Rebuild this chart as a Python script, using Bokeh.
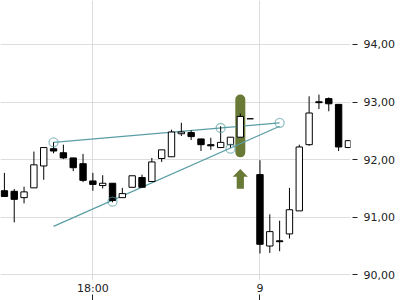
from bokeh.plotting import figure
from bokeh.models import FixedTicker, Label, ColumnDataSource, Range1d
from bokeh.embed import file_html
from bokeh.resources import INLINE

# ---- data ----
idx = list(range(36))
opens  = [91.46, 91.45, 91.34, 91.51, 91.89, 92.19, 92.12, 92.03, 91.93, 91.63,
          91.55, 91.59, 91.34, 91.52, 91.69, 91.62, 92.02, 92.05, 92.45, 92.47,
          92.36, 92.26, 92.21, 92.26, 92.39, 92.71, 91.74, 90.50, 90.59, 90.71,
          91.11, 92.26, 93.005, 93.06, 92.96, 92.21]
highs  = [91.77, 91.49, 91.53, 92.14, 92.21, 92.30, 92.26, 92.03, 92.10, 91.77,
          91.73, 91.59, 91.51, 91.72, 91.74, 92.03, 92.17, 92.52, 92.64, 92.51,
          92.36, 92.38, 92.58, 92.39, 92.80, 92.71, 91.99, 91.05, 90.94, 91.51,
          92.26, 93.10, 93.13, 93.08, 92.96, 92.33]
lows   = [91.36, 90.91, 91.24, 91.51, 91.65, 92.11, 92.01, 91.80, 91.61, 91.46,
          91.50, 91.26, 91.34, 91.52, 91.52, 91.62, 91.96, 92.05, 92.41, 92.34,
          92.15, 92.17, 92.21, 92.21, 92.39, 92.71, 90.37, 90.38, 90.41, 90.63,
          91.11, 92.24, 92.88, 92.84, 92.15, 92.21]
closes = [91.36, 91.31, 91.44, 91.91, 92.21, 92.15, 92.03, 91.86, 91.64, 91.57,
          91.59, 91.29, 91.41, 91.72, 91.52, 91.96, 92.17, 92.48, 92.48, 92.40,
          92.26, 92.24, 92.30, 92.39, 92.75, 92.71, 90.53, 90.75, 90.575, 91.13,
          92.22, 92.81, 92.99, 92.97, 92.22, 92.33]

x_tick_pos = [9, 26]
x_tick_labels = ["18:00", "9"]
y_ticks = [90, 91, 92, 93, 94]

trend1_x = [5, 28]
trend1_y = [92.30, 92.64]
trend2_x = [5, 28]
trend2_y = [90.84, 92.58]
pivot_x = [5, 22, 28, 11, 23]
pivot_y = [92.30, 92.55, 92.64, 91.27, 92.19]

signal_idx = 24
signal_top = 93.13
signal_bottom = 92.04

# ---- figure ----
X0, X1 = -0.397, 35.21
Y0, Y1 = 89.901, 94.764
FRAME_W, FRAME_H = 350, 280

p = figure(width=400, height=300, x_range=Range1d(X0, X1), y_range=Range1d(Y0, Y1),
           output_backend="svg", toolbar_location=None, y_axis_location="right",
           min_border_left=0, min_border_top=0, min_border_right=50, min_border_bottom=20)
p.outline_line_color = None
p.background_fill_color = "white"
p.border_fill_color = "white"

p.grid.grid_line_color = "#dddddd"
p.grid.grid_line_width = 1

FONT = "DejaVu Sans"
p.xaxis.ticker = FixedTicker(ticks=x_tick_pos)
p.xaxis.major_label_overrides = dict(zip(x_tick_pos, x_tick_labels))
p.xaxis.major_tick_in = -14
p.xaxis.major_tick_out = 20
p.xaxis.major_label_standoff = -19

p.yaxis.ticker = FixedTicker(ticks=y_ticks)
p.yaxis.major_label_overrides = {v: f"{v:.2f}".replace(".", ",") for v in y_ticks}
p.yaxis.major_tick_in = -2
p.yaxis.major_tick_out = 7
p.yaxis.major_label_standoff = 6

for ax in (p.xaxis, p.yaxis):
    ax.axis_line_color = None
    ax.minor_tick_line_color = None
    ax.major_tick_line_color = "#222222"
    ax.major_label_text_font = FONT
    ax.major_label_text_font_size = "11px"
    ax.major_label_text_color = "#222222"

px_y = FRAME_H / (Y1 - Y0)
px_x = FRAME_W / (X1 - X0)

# highlight of the signal candle
OLIVE = "#687a36"
p.quad(left=[signal_idx - 0.51], right=[signal_idx + 0.51], top=[signal_top], bottom=[signal_bottom],
       fill_color=OLIVE, line_color=None, border_radius=5)

# up arrow below the highlight
a_top = signal_bottom - 11.6 / px_y
a_base = signal_bottom - 19.3 / px_y
a_bot = signal_bottom - 31.5 / px_y
hw = 7.6 / px_x
sw = 3.6 / px_x
p.patch(x=[signal_idx, signal_idx + hw, signal_idx + sw, signal_idx + sw,
           signal_idx - sw, signal_idx - sw, signal_idx - hw],
        y=[a_top, a_base, a_base, a_bot, a_bot, a_base, a_base],
        fill_color=OLIVE, line_color=None)

# trend lines
TEAL = "#5a9ea5"
p.line(trend1_x, trend1_y, line_color=TEAL, line_width=1.3)
p.line(trend2_x, trend2_y, line_color=TEAL, line_width=1.3)

# candles
up = [c >= o for o, c in zip(opens, closes)]
src = ColumnDataSource(dict(
    x=idx, high=highs, low=lows,
    top=[max(o, c) for o, c in zip(opens, closes)],
    bottom=[min(o, c) for o, c in zip(opens, closes)],
    fill=["white" if u else "black" for u in up],
))
p.segment(x0="x", y0="high", x1="x", y1="low", source=src, line_color="black", line_width=1)
p.vbar(x="x", width=0.65, top="top", bottom="bottom", fill_color="fill", line_color="black",
       line_width=1, source=src)

# pivot circles
p.scatter(pivot_x, pivot_y, size=9, marker="circle", fill_color=None, line_color=TEAL,
          line_alpha=0.65, line_width=1.3)

# last price label
p.add_layout(Label(x=363, x_units="screen", y=closes[-1], y_units="data", y_offset=1,
                   text=f"{closes[-1]:.2f}".replace(".", ","), text_baseline="middle",
                   text_font=FONT, text_font_size="11px", text_color="#222222"))

open("out.html", "w").write(file_html(p, INLINE))
